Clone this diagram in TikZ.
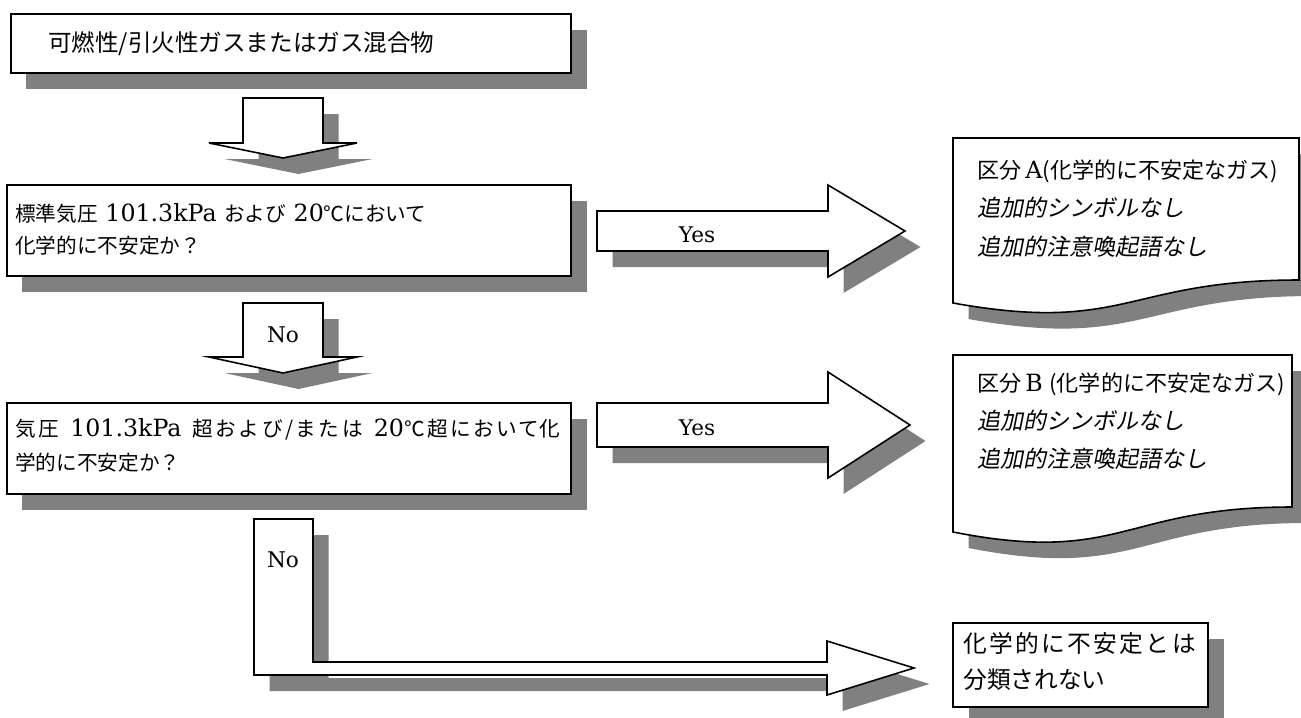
\documentclass[tikz,border=0pt]{standalone}
\usepackage{fontspec}
\setmainfont{DejaVu Serif}
\newfontfamily\jg{Noto Sans CJK JP}
\newfontfamily\jp[Scale=0.87]{Noto Sans CJK JP}
\newfontfamily\jpw[Scale=0.87,LetterSpace=12]{Noto Sans CJK JP}
\newfontfamily\jq[Scale=0.93]{Noto Sans CJK JP}
\newfontfamily\jpit[Scale=0.97,FakeSlant=0.2]{Noto Sans CJK JP}
\usetikzlibrary{shadows}

\tikzset{
	blk/.style={draw=black, fill=white, line width=0.9pt, line join=miter,
		drop shadow={shadow xshift=0.31cm, shadow yshift=-0.32cm, fill=black!50, opacity=1}},
	lbl/.style={inner sep=0pt, font=\fontsize{12.3}{15}\selectfont},
	txt/.style={inner sep=0pt, anchor=west, align=left, font=\fontsize{13.5}{#1}\selectfont},
}

\begin{document}
\begin{tikzpicture}[x=0.02cm, y=-0.02cm]
	\useasboundingbox (0,0) rectangle (1301,717);
	%%%%% START %%%%%
	% start box
	\draw[blk] (11,14) rectangle (571,73);
	\node[txt=19, font=\jg\fontsize{13.4}{19}\selectfont] (gas) at (48,44) {可燃性/引火性ガスまたはガス混合物};
	
	\draw[blk] (243,98) -- (323,98) -- (323,143) -- (357,143) -- (283,158) -- (209,143) -- (243,143) -- cycle;
	
	% first question
	\draw[blk] (7,185) rectangle (571,276);
	\node[txt=18.2] (q1) at (15,229) {{\jp 標準気圧} 101.3kPa {\jp および} 20{\jp ℃において}\\{\jp 化学的に不安定か？}};
	
	\draw[blk] (597,211) -- (828,211) -- (828,185) -- (905,231) -- (828,277) -- (828,251) -- (597,251) -- cycle;
	\node[lbl] (yes1) at (697,235) {Yes};
	
	\draw[blk] (243,303) -- (323,303) -- (323,357) -- (357,357) -- (283,373) -- (209,357) -- (243,357) -- cycle;
	\node[lbl] (no1) at (283,335) {No};
	
	% category A
	\draw[blk] (953,138) -- (1299,138) -- (1299,280) .. controls (1126,280) and (1126,334) .. (953,303) -- cycle;
	\node[txt=21.9] (catA) at (977,208.5) {{\jq 区分}\,A{\jq (化学的に不安定なガス)}\\{\jpit 追加的シンボルなし}\\{\jpit 追加的注意喚起語なし}};
	
	% second question (first line justified)
	\draw[blk] (7,403) rectangle (571,494);
	\node[txt=19.3] (q2) at (15,445) {\hbox to 10.9cm{{\jpw 気圧}\hfil\ 101.3kPa\hfil\ {\jpw 超および/または}\hfil\ 20{\jpw ℃超において}{\jp 化}}\\{\jp 学的に不安定か？}};
	
	\draw[blk] (597,403) -- (828,403) -- (828,372) -- (910,425) -- (828,478) -- (828,447) -- (597,447) -- cycle;
	\node[lbl] (yes2) at (697,428) {Yes};
	
	% category B
	\draw[blk] (953,355) -- (1292,355) -- (1292,507) .. controls (1122,507) and (1122,565) .. (953,532) -- cycle;
	\node[txt=21.6] (catB) at (977,421) {{\jq 区分}\,B\;{\jq (化学的に不安定なガス)}\\{\jpit 追加的シンボルなし}\\{\jpit 追加的注意喚起語なし}};
	
	% not classified
	\draw[blk] (254,519) -- (313,519) -- (313,662) -- (827,662) -- (827,641) -- (914,668) -- (827,695) -- (827,675) -- (254,675) -- cycle;
	\node[lbl] (no2) at (283,560) {No};
	
	\draw[blk] (953,623) rectangle (1208,707);
	\node[txt=21, font=\jg\fontsize{13.5}{21}\selectfont] (notcls) at (963,661.5) {{\addfontfeature{LetterSpace=10}化学的に不安定とは}\\分類されない};
	%%%%% END %%%%%
\end{tikzpicture}
\end{document}
